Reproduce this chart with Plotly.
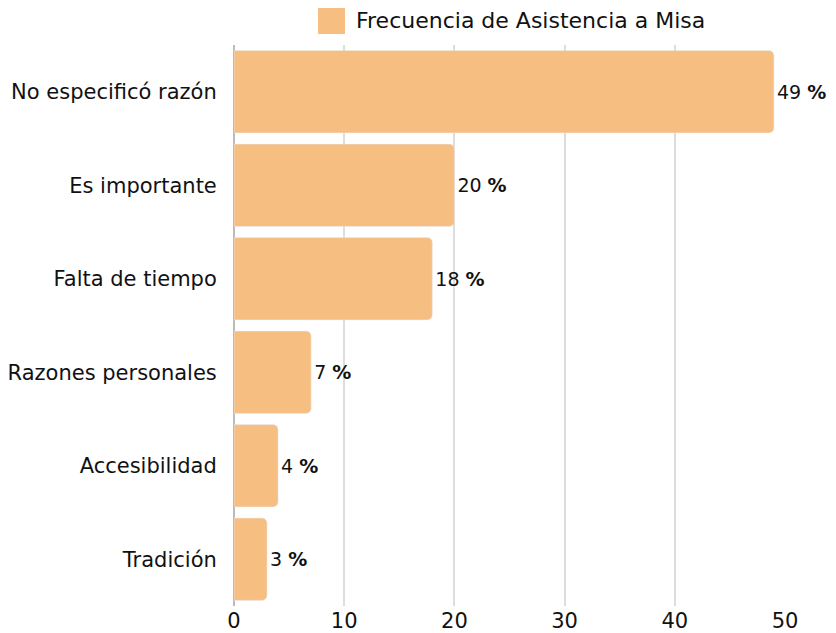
import plotly.graph_objects as go

categories = [
    "No especificó razón",
    "Es importante",
    "Falta de tiempo",
    "Razones personales",
    "Accesibilidad",
    "Tradición",
]
values = [49, 20, 18, 7, 4, 3]
series_name = "Frecuencia de Asistencia a Misa"
bar_color = "#F7BE82"

fig = go.Figure(
    go.Bar(
        x=values,
        y=categories,
        orientation="h",
        name=series_name,
        marker={"color": bar_color, "cornerradius": 5},
        texttemplate="%{x} <b>%</b>",
        textposition="outside",
        textfont={"size": 19, "color": "#111111"},
        cliponaxis=False,
        showlegend=False,
    )
)

# legend drawn by hand so the swatch can be the large square of the original
fig.add_shape(
    type="rect",
    xref="paper",
    yref="paper",
    x0=0.1525,
    x1=0.2015,
    y0=1.0196,
    y1=1.0677,
    fillcolor=bar_color,
    line={"width": 0},
)
fig.add_annotation(
    text=series_name,
    xref="paper",
    yref="paper",
    x=0.218,
    y=1.0437,
    xanchor="left",
    yanchor="middle",
    showarrow=False,
    font={"size": 22},
)

fig.update_layout(
    width=828,
    height=625,
    paper_bgcolor="white",
    plot_bgcolor="white",
    font={"family": "DejaVu Sans, sans-serif", "size": 21, "color": "#111111"},
    margin={"l": 226, "r": 51, "t": 37, "b": 27, "pad": 0, "autoexpand": False},
    bargap=0.12,
    xaxis={
        "range": [0, 50],
        "dtick": 10,
        "showgrid": True,
        "gridcolor": "#DDDDDD",
        "gridwidth": 2,
        "zeroline": True,
        "zerolinecolor": "#BBBBBB",
        "zerolinewidth": 2,
        "ticks": "",
        "tickfont": {"size": 21},
        "automargin": False,
    },
    yaxis={
        "categoryorder": "array",
        "categoryarray": categories[::-1],
        "ticks": "outside",
        "ticklen": 12,
        "tickcolor": "white",
        "tickfont": {"size": 21},
        "automargin": False,
    },
)

fig.write_html("out.html")
